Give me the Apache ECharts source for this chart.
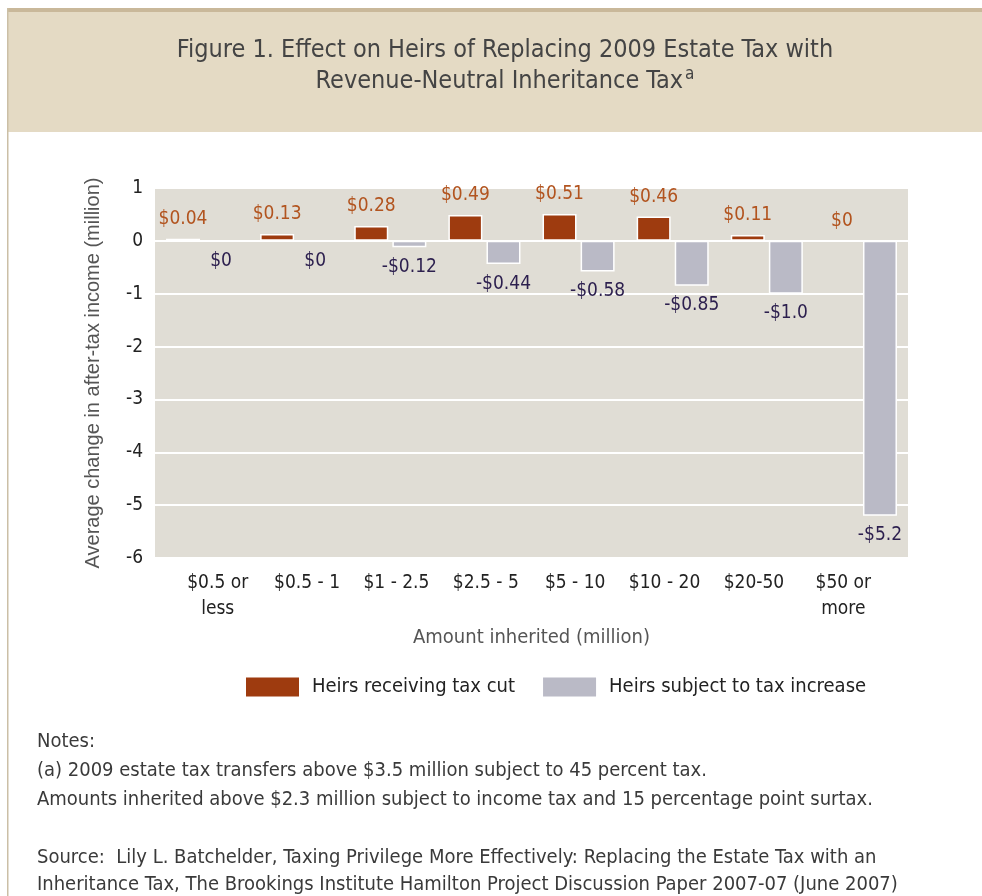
<!DOCTYPE html>
<html>
<head>
    <meta charset="utf-8">
    <title>Estate vs inheritance tax</title>
    <script src="https://cdn.jsdelivr.net/npm/echarts@6.0.0/dist/echarts.min.js"></script>
    <style>
        html, body { margin: 0; padding: 0; background: #fff; }
    </style>
</head>
<body>
    <div id="main" style="width: 982px;height:896px;"></div>
    <script type="text/javascript">
        // data
        var categories = ['$0.5 or\nless', '$0.5 - 1', '$1 - 2.5', '$2.5 - 5', '$5 - 10', '$10 - 20', '$20-50', '$50 or\nmore'];
        var taxCut = [0.04, 0.13, 0.28, 0.49, 0.51, 0.46, 0.11, 0];
        var taxIncrease = [0, 0, -0.12, -0.44, -0.58, -0.85, -1.0, -5.2];
        var taxCutLabels = ['$0.04', '$0.13', '$0.28', '$0.49', '$0.51', '$0.46', '$0.11', '$0'];
        var taxIncreaseLabels = ['$0', '$0', '-$0.12', '-$0.44', '-$0.58', '-$0.85', '-$1.0', '-$5.2'];
        var yTicks = [1, 0, -1, -2, -3, -4, -5, -6];

        var narrow = "'Liberation Sans Narrow', 'DejaVu Sans Condensed', sans-serif";
        var myChart = echarts.init(document.getElementById('main'));

        var option = {
            animation: false,
            backgroundColor: '#fff',
            graphic: [
                // header band and frame
                { type: 'rect', shape: { x: 7, y: 8, width: 975, height: 124 }, style: { fill: '#e4dac4' }, z: -10 },
                { type: 'rect', shape: { x: 7, y: 8, width: 975, height: 4 }, style: { fill: '#c9b89a' }, z: -9 },
                { type: 'rect', shape: { x: 7, y: 8, width: 1.5, height: 888 }, style: { fill: '#cbbfa6' }, z: -9 },
                {
                    type: 'text', left: 37, top: 727,
                    style: {
                        text: 'Notes:\n(a) 2009 estate tax transfers above $3.5 million subject to 45 percent tax.\nAmounts inherited above $2.3 million subject to income tax and 15 percentage point surtax.',
                        font: '20px ' + narrow, fill: '#3a3a3a', lineHeight: 29
                    }
                },
                {
                    type: 'text', left: 37, top: 844,
                    style: {
                        text: 'Source:  Lily L. Batchelder, Taxing Privilege More Effectively: Replacing the Estate Tax with an\nInheritance Tax, The Brookings Institute Hamilton Project Discussion Paper 2007-07 (June 2007)',
                        font: '20px ' + narrow, fill: '#3a3a3a', lineHeight: 27
                    }
                }
            ],
            title: {
                text: 'Figure 1. Effect on Heirs of Replacing 2009 Estate Tax with\n{m|Revenue-Neutral Inheritance Tax}{s|a}',
                left: 500,
                top: 30,
                textAlign: 'center',
                textStyle: {
                    color: '#444',
                    fontFamily: narrow,
                    fontSize: 25,
                    fontWeight: 'normal',
                    lineHeight: 31,
                    rich: {
                        m: { color: '#444', fontFamily: narrow, fontSize: 25, lineHeight: 31 },
                        s: { color: '#444', fontFamily: narrow, fontSize: 17, verticalAlign: 'top', padding: [0, 0, 12, 2] }
                    }
                }
            },
            legend: {
                left: 241,
                top: 672,
                itemWidth: 53,
                itemHeight: 19,
                itemGap: 28,
                icon: 'rect',
                itemStyle: { borderWidth: 0 },
                textStyle: { fontFamily: narrow, fontSize: 20, color: '#222', padding: [0, 0, 0, 8] },
                data: ['Heirs receiving tax cut', 'Heirs subject to tax increase']
            },
            grid: [{
                left: 155, right: 74, top: 188, bottom: 338,
                show: true, backgroundColor: '#e0ddd5', borderWidth: 0
            }, {
                left: 173, right: 94, top: 188, bottom: 338
            }],
            xAxis: [{
                type: 'category',
                data: categories,
                axisLine: { show: false },
                axisTick: { show: false },
                axisLabel: { show: false },
                name: 'Amount inherited (million)',
                nameLocation: 'middle',
                nameGap: 70,
                nameTextStyle: { fontFamily: narrow, fontSize: 20, color: '#555' }
            }, {
                type: 'category',
                gridIndex: 1,
                data: categories,
                axisLine: { show: false },
                axisTick: { show: false },
                axisLabel: { interval: 0, fontFamily: narrow, fontSize: 19, color: '#222', lineHeight: 26, margin: 12 }
            }],
            yAxis: [{
                type: 'value',
                min: -6,
                max: 1,
                interval: 1,
                axisLine: { show: false },
                axisTick: { show: false },
                splitLine: { lineStyle: { color: '#fff', width: 2 } },
                axisLabel: {
                    fontFamily: narrow, fontSize: 19, color: '#222', margin: 12,
                    formatter: function (v) { return yTicks.indexOf(v) >= 0 ? String(v) : ''; }
                },
                name: 'Average change in after-tax income (million)',
                nameLocation: 'middle',
                nameGap: 52,
                nameRotate: 90,
                nameTextStyle: { fontFamily: "'Liberation Sans', Arial, sans-serif", fontSize: 20, color: '#555' }
            }, {
                type: 'value', gridIndex: 1, min: -6, max: 1, show: false
            }],
            series: [{
                name: 'Heirs receiving tax cut',
                type: 'bar',
                data: taxCut,
                barWidth: 34,
                barGap: '12%',
                itemStyle: { color: '#9e3b0f', borderColor: '#fff', borderWidth: 1.5 },
                label: {
                    show: true, position: 'top', distance: 10,
                    fontFamily: narrow, fontSize: 19, color: '#b2541f',
                    formatter: function (p) { return taxCutLabels[p.dataIndex]; }
                }
            }, {
                name: 'Heirs subject to tax increase',
                type: 'bar',
                data: taxIncrease,
                barWidth: 34,
                barGap: '12%',
                itemStyle: { color: '#babac6', borderColor: '#fff', borderWidth: 1.5 },
                label: {
                    show: true, position: 'bottom', distance: 10,
                    fontFamily: narrow, fontSize: 19, color: '#2c1f4e',
                    formatter: function (p) { return taxIncreaseLabels[p.dataIndex]; }
                }
            }]
        };

        myChart.setOption(option);
    </script>
</body>
</html>
